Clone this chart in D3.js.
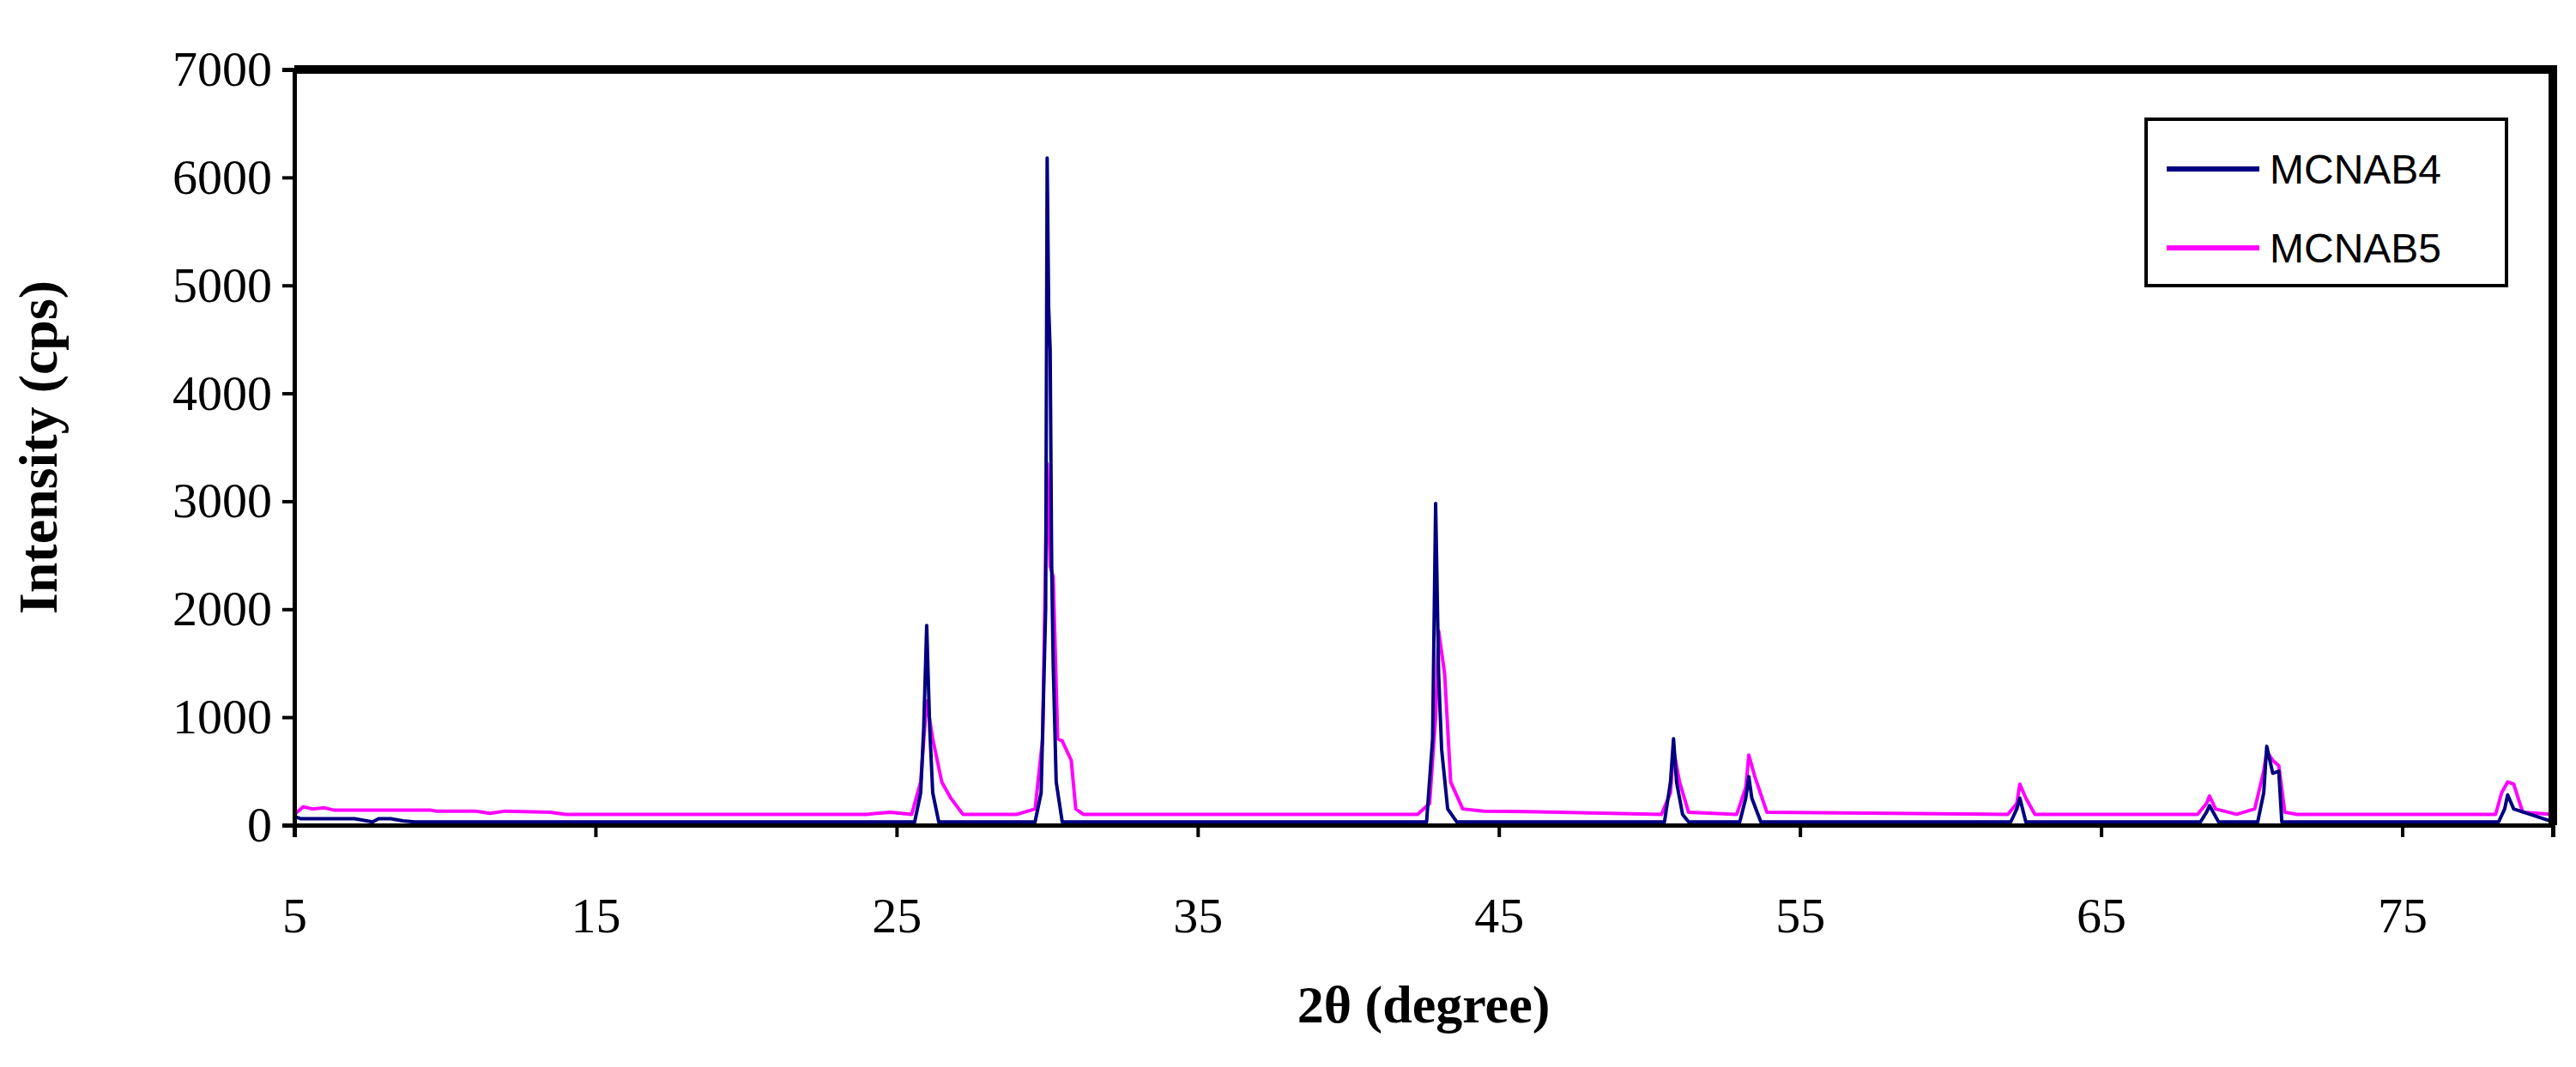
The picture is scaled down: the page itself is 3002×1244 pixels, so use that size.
<!DOCTYPE html>
<html><head><meta charset="utf-8">
<script src="https://cdn.jsdelivr.net/npm/d3@7"></script>
<style>body{margin:0;background:#fff}</style></head>
<body><svg id="chart" width="3002" height="1244"></svg>
<script>
// données
const xTicks = [5, 15, 25, 35, 45, 55, 65, 75];
const yTicks = [0, 1000, 2000, 3000, 4000, 5000, 6000, 7000];
const seriesNames = ["MCNAB4", "MCNAB5"];
const seriesColors = ["#000080", "#ff00ff"];

const ab4X = [5, 5.2, 6, 7, 7.6, 7.8, 8.2, 8.6, 9, 11, 11.5, 25.6, 25.8, 25.9, 26.0, 26.1, 26.2, 26.4, 29.6, 29.8, 29.95, 30.0, 30.05, 30.1, 30.15, 30.2, 30.3, 30.5,
  42.6, 42.8, 42.9, 43.0, 43.1, 43.3, 43.6, 50.5, 50.7, 50.8, 50.9, 51.1, 51.3, 53.0, 53.2, 53.3, 53.4, 53.7, 62.0, 62.2, 62.3, 62.5, 68.3, 68.5, 68.6, 68.9,
  70.2, 70.4, 70.5, 70.7, 70.9, 71.0, 78.2, 78.4, 78.5, 78.7, 80];
const ab4Y = [80, 60, 60, 60, 30, 60, 60, 40, 30, 30, 30, 30, 300, 900, 1850, 900, 300, 30, 30, 300, 2000, 6180, 4800, 4400, 2400, 1500, 400, 30,
  30, 800, 2980, 1400, 700, 150, 30, 30, 400, 800, 400, 100, 30, 30, 250, 450, 250, 30, 30, 150, 250, 30, 30, 120, 180, 30,
  30, 300, 730, 480, 500, 30, 30, 150, 280, 150, 30];

const mb5X = [5, 5.3, 5.6, 6, 6.3, 9.5, 9.7, 11, 11.5, 12, 13.5, 14, 24, 24.8, 25.5, 25.8, 26.0, 26.2, 26.5, 26.8, 27.2, 29, 29.6, 29.85, 30.0, 30.1, 30.2, 30.35, 30.5, 30.8, 30.95, 31.2,
  42.3, 42.7, 42.9, 43.0, 43.2, 43.4, 43.8, 44.5, 47, 50.4, 50.7, 50.8, 51.0, 51.3, 52.9, 53.2, 53.3, 53.5, 53.9, 61.9, 62.2, 62.3, 62.5, 62.8,
  68.2, 68.5, 68.6, 68.8, 69.5, 70.1, 70.4, 70.5, 70.7, 70.9, 71.1, 71.5, 78.1, 78.3, 78.5, 78.7, 79.0, 80];
const mb5Y = [100, 170, 150, 160, 140, 140, 130, 130, 110, 130, 120, 100, 100, 120, 100, 400, 1150, 800, 400, 250, 100, 100, 150, 800, 3350, 2400, 2300, 800, 780, 600, 150, 100,
  100, 200, 1000, 1800, 1400, 400, 150, 130, 120, 100, 300, 700, 400, 120, 100, 350, 650, 450, 120, 100, 200, 380, 250, 100,
  100, 200, 270, 150, 100, 150, 500, 680, 600, 550, 120, 100, 100, 300, 400, 380, 120, 100];

const seriesData = [
  ab4X.map((x, i) => [x, ab4Y[i]]),
  mb5X.map((x, i) => [x, mb5Y[i]])
];

const svg = d3.select("#chart");
const margin = { left: 343, right: 27, top: 81, bottom: 282 };
const W = 3002, H = 1244;

const x = d3.scaleLinear().domain([5, 80]).range([margin.left, W - margin.right]);
const y = d3.scaleLinear().domain([0, 7000]).range([H - margin.bottom, margin.top]);

const serif = "'Liberation Serif', 'DejaVu Serif', serif";

// courbes
const line = d3.line().x(d => x(d[0])).y(d => y(d[1]));
[1, 0].forEach(i => {
  svg.append("path").datum(seriesData[i])
    .attr("d", line).attr("fill", "none")
    .attr("stroke", seriesColors[i]).attr("stroke-width", 4)
    .attr("stroke-linejoin", "round");
});

// cadre : haut et droite plus épais
svg.append("path")
  .attr("d", `M${x(5)},${y(7000)}H${x(80)}V${y(0)}`)
  .attr("fill", "none").attr("stroke", "#000").attr("stroke-width", 10);

// axes
const gx = svg.append("g").attr("transform", `translate(0,${y(0)})`)
  .call(d3.axisBottom(x).tickValues(xTicks).tickSize(14).tickPadding(70).tickFormat(d3.format("d")));
const gy = svg.append("g").attr("transform", `translate(${x(5)},0)`)
  .call(d3.axisLeft(y).tickValues(yTicks).tickSize(14).tickPadding(12).tickFormat(d3.format("d")));
[gx, gy].forEach(g => {
  g.select(".domain").attr("stroke-width", 5);
  g.selectAll(".tick line").attr("stroke-width", 4);
  g.selectAll("text").style("font-family", serif).style("font-size", "58px").attr("fill", "#000");
});

// titres
svg.append("text").attr("x", x(42.5)).attr("y", 1192)
  .attr("text-anchor", "middle").style("font-family", serif)
  .style("font-size", "62px").style("font-weight", "bold").text("2θ (degree)");
svg.append("text").attr("transform", `translate(66,${(y(0) + y(7000)) / 2}) rotate(-90)`)
  .attr("text-anchor", "middle").style("font-family", serif)
  .style("font-size", "64px").style("font-weight", "bold").text("Intensity (cps)");

// légende
const leg = svg.append("g").attr("transform", "translate(2501,139)");
leg.append("rect").attr("width", 420).attr("height", 194)
  .attr("fill", "#fff").attr("stroke", "#000").attr("stroke-width", 4);
seriesNames.forEach((name, i) => {
  const ly = 58 + i * 92;
  leg.append("line").attr("x1", 24).attr("x2", 132).attr("y1", ly).attr("y2", ly)
    .attr("stroke", seriesColors[i]).attr("stroke-width", 6);
  leg.append("text").attr("x", 144).attr("y", ly + 17)
    .style("font-family", "'Liberation Sans', Arial, sans-serif").style("font-size", "48px")
    .text(name);
});
</script></body></html>
